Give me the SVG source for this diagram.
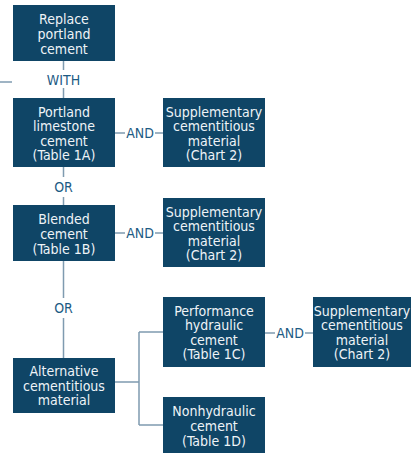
<svg xmlns="http://www.w3.org/2000/svg" width="411" height="455" viewBox="0 0 411 455">
<style>
.box{fill:#0f4566}
.t{font-family:"DejaVu Sans Condensed","Liberation Sans",sans-serif;font-size:14px;fill:#eef3f7;text-anchor:middle}
.lbl{font-family:"DejaVu Sans Condensed","Liberation Sans",sans-serif;font-size:14px;fill:#1d5b84;text-anchor:middle}
.ln{stroke:#7f9bb0;stroke-width:1.5;fill:none}
</style>
<rect width="411" height="455" fill="#ffffff"/>
<g id="connectors">
<path class="ln" d="M0 82H12"/>
<path class="ln" d="M63.5 61V70M63.5 88V98"/>
<path class="ln" d="M63.5 167V177M63.5 197V205"/>
<path class="ln" d="M63.5 261V298M63.5 318V358"/>
<path class="ln" d="M115 133H125M155 133H163"/>
<path class="ln" d="M115 233H125M155 233H163"/>
<path class="ln" d="M265 333H275M305 333H313"/>
<path class="ln" d="M115 382H139M139 332V425M139 332H163M139 425H163"/>
<text class="lbl" x="63.5" y="85">WITH</text>
<text class="lbl" x="140" y="138">AND</text>
<text class="lbl" x="63.5" y="192">OR</text>
<text class="lbl" x="140" y="238">AND</text>
<text class="lbl" x="63.5" y="313">OR</text>
<text class="lbl" x="290" y="338">AND</text>
</g>
<g id="n1"><rect class="box" x="13" y="5" width="102" height="56"/>
<text class="t" x="64" y="23.5">Replace</text><text class="t" x="64" y="38.5">portland</text><text class="t" x="64" y="53.5">cement</text></g>
<g id="n2"><rect class="box" x="13" y="98" width="102" height="69"/>
<text class="t" x="64" y="116.5">Portland</text><text class="t" x="64" y="131">limestone</text><text class="t" x="64" y="145.5">cement</text><text class="t" x="64" y="160">(Table 1A)</text></g>
<g id="n3"><rect class="box" x="163" y="98" width="102" height="69"/>
<text class="t" x="214" y="116.5">Supplementary</text><text class="t" x="214" y="131">cementitious</text><text class="t" x="214" y="145.5">material</text><text class="t" x="214" y="160">(Chart 2)</text></g>
<g id="n4"><rect class="box" x="13" y="205" width="102" height="56"/>
<text class="t" x="64" y="223.5">Blended</text><text class="t" x="64" y="238.5">cement</text><text class="t" x="64" y="253.5">(Table 1B)</text></g>
<g id="n5"><rect class="box" x="163" y="198" width="102" height="69"/>
<text class="t" x="214" y="216.5">Supplementary</text><text class="t" x="214" y="231">cementitious</text><text class="t" x="214" y="245.5">material</text><text class="t" x="214" y="260">(Chart 2)</text></g>
<g id="n6"><rect class="box" x="13" y="358" width="102" height="55"/>
<text class="t" x="64" y="376">Alternative</text><text class="t" x="64" y="390.5">cementitious</text><text class="t" x="64" y="405">material</text></g>
<g id="n7"><rect class="box" x="163" y="297" width="102" height="70"/>
<text class="t" x="214" y="315.5">Performance</text><text class="t" x="214" y="330">hydraulic</text><text class="t" x="214" y="344.5">cement</text><text class="t" x="214" y="359">(Table 1C)</text></g>
<g id="n8"><rect class="box" x="313" y="297" width="98" height="70"/>
<text class="t" x="362" y="315.5">Supplementary</text><text class="t" x="362" y="330">cementitious</text><text class="t" x="362" y="344.5">material</text><text class="t" x="362" y="359">(Chart 2)</text></g>
<g id="n9"><rect class="box" x="163" y="397" width="102" height="56"/>
<text class="t" x="214" y="415.5">Nonhydraulic</text><text class="t" x="214" y="430.5">cement</text><text class="t" x="214" y="445.5">(Table 1D)</text></g>
</svg>
